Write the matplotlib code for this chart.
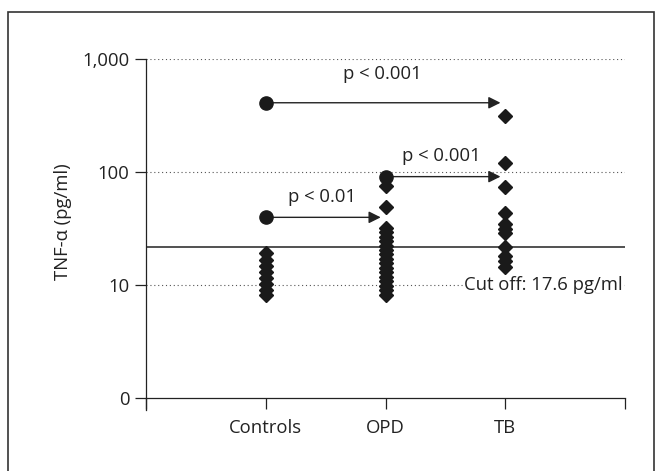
import matplotlib
matplotlib.use("Agg")
import matplotlib.pyplot as plt
from matplotlib.patches import Rectangle
from matplotlib.lines import Line2D

plt.rcParams['font.family'] = ['Open Sans', 'DejaVu Sans']

categories = ["Controls", "OPD", "TB"]
controls_vals = [19.2, 16.6, 14.7, 13.0, 11.5, 10.2, 9.1, 8.1]
opd_vals = [75.2, 49.0, 31.9, 29.4, 26.6, 24.5, 22.1, 20.4, 18.8, 17.0,
            15.7, 14.1, 13.0, 11.8, 10.8, 9.8, 9.0, 8.2]
tb_vals = [313, 120, 73.7, 43.4, 34.7, 31.3, 28.8, 21.7, 18.1, 16.3, 14.4]
cutoff_value = 21.7
cutoff_label = "Cut off: 17.6 pg/ml"
ytick_vals = [1, 10, 100, 1000]
ytick_labels = ["0", "10", "100", "1,000"]
# comparisons: (start group, start value, end group, label)
comparisons = [
    (1, 410, 3, "p < 0.001"),
    (1, 39.7, 2, "p < 0.01"),
    (2, 91, 3, "p < 0.001"),
]
label_offsets_pt = [21, 14.5, 14.5]

W, H = 662, 471
FS = 13.3
fig = plt.figure(figsize=(W / 100, H / 100), dpi=100)
ax = fig.add_axes([146 / W, 1 - 398 / H, (625 - 146) / W, (398 - 59) / H])
ax.set_yscale('log')
ax.set_ylim(1, 1000)
ax.set_xlim(0, 4)

# grid lines
for v in [10, 100, 1000]:
    ax.axhline(v, color='#555555', lw=0.8, ls=(0, (1, 2.5)), zorder=1)

# cut-off line
ax.axhline(cutoff_value, color='#222222', lw=1.1, zorder=2)
ax.text(3.98, 10.0, cutoff_label, ha='right', va='center', fontsize=FS,
        color='#222222', zorder=3,
        bbox=dict(facecolor='white', edgecolor='none', pad=1.0))

# points
for i, vals in enumerate([controls_vals, opd_vals, tb_vals]):
    ax.plot([i + 1] * len(vals), vals, 'D', color='#1a1a1a', ms=7,
            mec='#1a1a1a', zorder=4, clip_on=False)

# comparisons
for (g0, v, g1, lab), off in zip(comparisons, label_offsets_pt):
    ax.plot([g0], [v], 'o', color='#1a1a1a', ms=9.5, zorder=5)
    ax.annotate("", xy=(g1 - 0.04, v), xytext=(g0, v),
                arrowprops=dict(arrowstyle='-|>', color='#222222', lw=1.0,
                                mutation_scale=18, shrinkA=0, shrinkB=0),
                zorder=4)
    ax.annotate(lab, xy=((g0 + g1) / 2 - 0.03, v), xytext=(0, off),
                textcoords='offset points', ha='center', va='center',
                fontsize=FS, color='#222222')

ax.set_yticks(ytick_vals)
ax.set_yticklabels(ytick_labels)
ax.minorticks_off()
ax.set_xticks([0, 1, 2, 3, 4])
ax.set_xticklabels([""] + categories + [""])
ax.tick_params(axis='both', direction='out', length=8, width=0.9,
               color='#222222', labelsize=FS, labelcolor='#222222')
ax.tick_params(axis='x', pad=7)
ax.tick_params(axis='y', pad=4)
for s in ['top', 'right']:
    ax.spines[s].set_visible(False)
for s in ['left', 'bottom']:
    ax.spines[s].set_linewidth(0.9)
    ax.spines[s].set_color('#222222')
ax.add_line(Line2D([0, 0], [0, -0.035], transform=ax.transAxes,
                   color='#222222', lw=0.9, clip_on=False))

fig.text(63 / W, 1 - 222 / H, "TNF-α (pg/ml)", rotation=90, ha='center',
         va='center', fontsize=FS, color='#222222')

fig.patches.append(Rectangle((8 / W, -0.1), (654 - 8) / W, 1 - 12 / H + 0.1,
                             transform=fig.transFigure, fill=False,
                             ec='#333333', lw=1.2))

fig.savefig("out.png", dpi=100)
